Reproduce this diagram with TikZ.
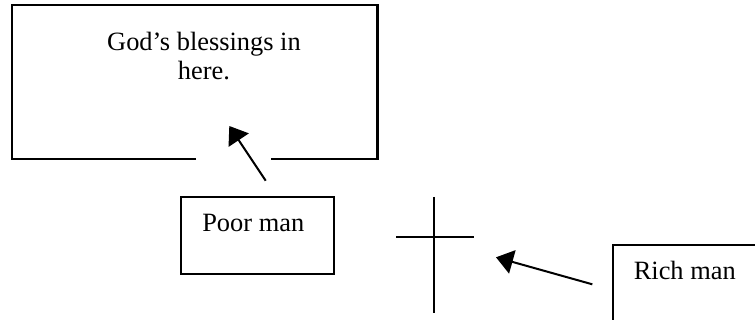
\documentclass[tikz,border=0pt]{standalone}
\usepackage{fontspec}
\setmainfont{Liberation Serif}
\usetikzlibrary{arrows.meta}
\def\biggish{\fontsize{13.2}{14.7}\selectfont}

\begin{document}
\begin{tikzpicture}[x=0.5pt, y=-0.5pt, line width=0.8pt,
    pointer/.style={-{Triangle[length=8.5pt, width=12pt]}, line width=1pt},
    label/.style={anchor=base west, inner sep=0pt, font=\biggish}]
      \useasboundingbox (0, 0) rectangle (755, 320);
      \clip (0, 0) rectangle (755, 320);

      % heaven, open at the bottom
      \draw [line width=1.1pt] (196, 159) -| (12, 5) -| (377.5, 159) -- (271, 159);
      \node[anchor=base, align=center, inner sep=0pt, font=\biggish] (blessings) at (204, 80) {God's blessings in\\ here.};

      \draw (181, 197) rectangle (334, 274);
      \node[label] (poor) at (201.5, 231.7) {Poor man};

      \draw (613, 245) rectangle (790, 340);
      \node[label] (rich) at (633, 280) {Rich man};

      % the cross
      \coordinate (crosstop) at (434, 197);
      \coordinate (crossfoot) at (434, 313);
      \coordinate (armleft) at (396, 237);
      \coordinate (armright) at (474, 237);
      \draw (crosstop) -- (crossfoot);
      \draw (armleft) -- (armright);

      % arrows
      \coordinate (poorfrom) at (265.7, 180.7);
      \coordinate (poorto) at (229.3, 126);
      \coordinate (richfrom) at (592.3, 284.3);
      \coordinate (richto) at (496, 257.3);
      \draw[pointer] (poorfrom) -- (poorto);
      \draw[pointer] (richfrom) -- (richto);
    \end{tikzpicture}
\end{document}
